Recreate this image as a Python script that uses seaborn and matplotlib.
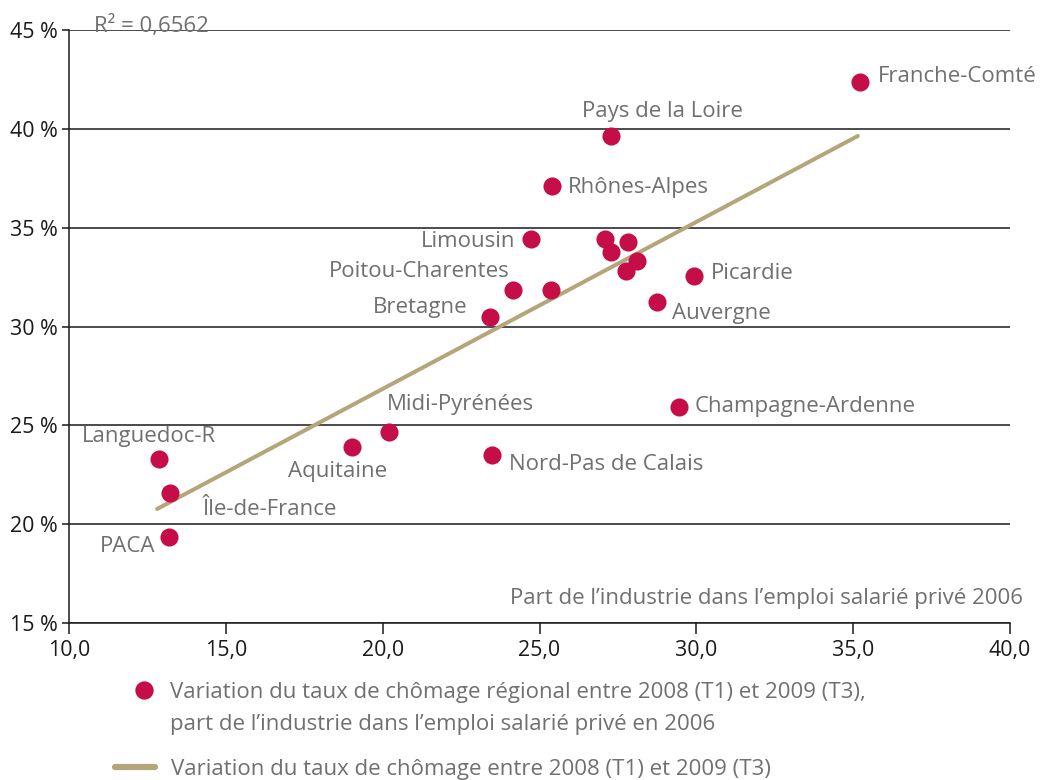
import numpy as np
import pandas as pd
import matplotlib
import matplotlib.pyplot as plt
from matplotlib.lines import Line2D
from matplotlib.ticker import FuncFormatter, MultipleLocator
import seaborn as sns

matplotlib.use('Agg')

# Data: share of industry in private employment (2006, %)
# and change in the regional unemployment rate 2008 (T1) -> 2009 (T3), in %
part_industrie = [35.22, 27.28, 25.39, 24.73, 27.09, 27.81, 27.28, 28.10, 27.75, 29.93,
                  24.17, 25.37, 28.74, 23.42, 29.45, 20.20, 19.02, 23.50, 12.88, 13.22, 13.19]
variation_chomage = [42.38, 39.64, 37.12, 34.44, 34.44, 34.26, 33.77, 33.33, 32.81, 32.56,
                     31.85, 31.85, 31.25, 30.50, 25.94, 24.66, 23.90, 23.50, 23.30, 21.56, 19.37]
regions = ["Franche-Comté", "Pays de la Loire", "Rhônes-Alpes", "Limousin", None, None, None,
           None, None, "Picardie", "Poitou-Charentes", None, "Auvergne", "Bretagne",
           "Champagne-Ardenne", "Midi-Pyrénées", "Aquitaine", "Nord-Pas de Calais",
           "Languedoc-R", "Île-de-France", "PACA"]

# trend line end points
trend_x = [12.81, 35.15]
trend_y = [20.77, 39.64]

r2_text = "R² = 0,6562"
x_title = "Part de l’industrie dans l’emploi salarié privé 2006"
legend_dots = ["Variation du taux de chômage régional entre 2008 (T1) et 2009 (T3),",
               "part de l’industrie dans l’emploi salarié privé en 2006"]
legend_line = "Variation du taux de chômage entre 2008 (T1) et 2009 (T3)"

# label placement: (ha, dx px, dy px) relative to the dot
label_pos = {
    "Franche-Comté": ("left", 18, 0),
    "Pays de la Loire": ("left", -29, 19),
    "Rhônes-Alpes": ("left", 16, -7),
    "Limousin": ("right", -16, -8),
    "Poitou-Charentes": ("right", -4, 13),
    "Bretagne": ("right", -22, 4),
    "Picardie": ("left", 17, -3),
    "Auvergne": ("left", 15, -17),
    "Champagne-Ardenne": ("left", 16, -5),
    "Nord-Pas de Calais": ("left", 17, -15),
    "Midi-Pyrénées": ("left", -2, 22),
    "Aquitaine": ("center", -14, -30),
    "Languedoc-R": ("center", -10, 17),
    "Île-de-France": ("left", 33, -22),
    "PACA": ("right", -14, -15),
}

DOT = "#C50D47"
LINE = "#B4A67A"
GREY = "#707070"
FS = 16.0

sns.set_style("white")
plt.rcParams['font.family'] = ['Open Sans', 'DejaVu Sans']

df = pd.DataFrame({'x': part_industrie, 'y': variation_chomage, 'region': regions})
trend = pd.DataFrame({'x': trend_x, 'y': trend_y})

fig = plt.figure(figsize=(10.4, 7.8), dpi=100)
ax = fig.add_axes([69 / 1040, 1 - 623 / 780, (1010 - 69) / 1040, (623 - 30) / 780])

sns.lineplot(data=trend, x='x', y='y', ax=ax, color=LINE, linewidth=2.9, zorder=2)
sns.scatterplot(data=df, x='x', y='y', ax=ax, color=DOT, s=170, linewidth=0, zorder=3)

for _, row in df.iterrows():
    if row['region'] is None:
        continue
    ha, dx, dy = label_pos[row['region']]
    ax.annotate(row['region'], (row['x'], row['y']), xytext=(dx, dy),
                textcoords='offset pixels', ha=ha, va='baseline',
                fontsize=FS, color=GREY)

ax.set_xlim(10, 40)
ax.set_ylim(15, 45)
ax.xaxis.set_major_locator(MultipleLocator(5))
ax.yaxis.set_major_locator(MultipleLocator(5))
ax.xaxis.set_major_formatter(FuncFormatter(lambda v, p: f"{v:.1f}".replace('.', ',')))
ax.yaxis.set_major_formatter(FuncFormatter(lambda v, p: f"{v:.0f} %"))
ax.set_xlabel("")
ax.set_ylabel("")

ax.grid(axis='y', color='#1a1a1a', linewidth=1.1)
ax.get_ygridlines()[-1].set_visible(False)
ax.set_axisbelow(True)

for side in ['top', 'right']:
    ax.spines[side].set_visible(False)
for side in ['left', 'bottom']:
    ax.spines[side].set_color('#1a1a1a')
    ax.spines[side].set_linewidth(1.1)

ax.tick_params(axis='y', direction='out', length=5, width=1.1, pad=3,
               labelsize=FS - 0.6, colors='#1a1a1a', left=True)
ax.tick_params(axis='x', direction='out', length=8, width=1.1, pad=4,
               labelsize=FS - 0.6, colors='#1a1a1a', bottom=True)

fig.text(94 / 1040, 1 - 32 / 780, r2_text, fontsize=FS, color=GREY, va='baseline')
fig.text(1023 / 1040, 1 - 604 / 780, x_title, fontsize=FS, color=GREY,
         ha='right', va='baseline')

# legend, split in two so the dot sits on the first line
dot_handle = Line2D([], [], linestyle='none', marker='o', markersize=13.2,
                    markerfacecolor=DOT, markeredgewidth=0)
blank_handle = Line2D([], [], linestyle='none')
line_handle = Line2D([], [], color=LINE, linewidth=4.5)

leg1 = fig.legend([dot_handle, blank_handle], legend_dots, loc='upper left',
                  bbox_to_anchor=(133 / 1040, 1 - 682 / 780), frameon=False,
                  fontsize=FS, labelcolor=GREY, borderpad=0, borderaxespad=0,
                  handlelength=1.0, handletextpad=0.68, labelspacing=0.5)
leg2 = fig.legend([line_handle], [legend_line], loc='upper left',
                  bbox_to_anchor=(115 / 1040, 1 - 759 / 780), frameon=False,
                  fontsize=FS, labelcolor=GREY, borderpad=0, borderaxespad=0,
                  handlelength=1.82, handletextpad=0.68)

fig.savefig("out.png", dpi=100)
